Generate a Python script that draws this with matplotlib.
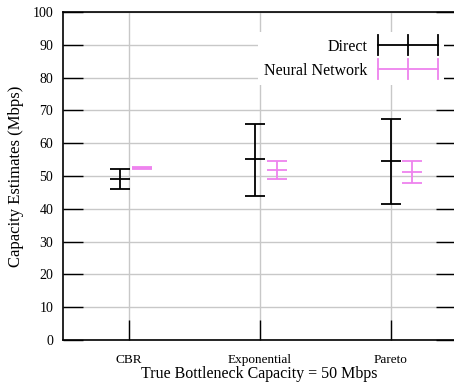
import matplotlib
matplotlib.use("Agg")
import matplotlib.pyplot as plt
from matplotlib.legend_handler import HandlerBase
from matplotlib.lines import Line2D

categories = ["CBR", "Exponential", "Pareto"]
series_names = ["Direct", "Neural Network"]
direct_mid = [49.0, 55.1, 54.5]
direct_low = [46.1, 44.0, 41.4]
direct_high = [52.0, 66.0, 67.4]
nn_mid = [52.3, 51.7, 51.1]
nn_low = [52.0, 49.0, 47.8]
nn_high = [52.6, 54.6, 54.5]
direct_x = [0.937, 1.967, 3.0]
nn_x = [1.102, 2.133, 3.166]
colors = ["black", "#EE82EE"]

plt.rcParams['font.family'] = ['Liberation Serif', 'DejaVu Serif']

fig = plt.figure(figsize=(4.54, 3.83), dpi=100)
ax = fig.add_axes([63/454, 1-340/383, 393/454, 328/383])


class HandlerGnuErr(HandlerBase):
    def create_artists(self, legend, orig_handle, xdescent, ydescent,
                       width, height, fontsize, trans):
        c = orig_handle.get_color()
        y = height / 2 - ydescent
        arts = [Line2D([-xdescent, width - xdescent], [y, y], color=c, lw=1.3)]
        h = fontsize * 0.62
        for fx in (0.0, 0.5, 1.0):
            xx = -xdescent + fx * width
            arts.append(Line2D([xx, xx], [y - h, y + h], color=c, lw=1.3))
        for a in arts:
            a.set_transform(trans)
        return arts


handles = []
for xs, mid, lo, hi, col, name in [
    (direct_x, direct_mid, direct_low, direct_high, colors[0], series_names[0]),
    (nn_x, nn_mid, nn_low, nn_high, colors[1], series_names[1]),
]:
    yerr = [[m - l for m, l in zip(mid, lo)], [h - m for m, h in zip(mid, hi)]]
    ax.errorbar(xs, mid, yerr=yerr, fmt='none', ecolor=col, elinewidth=1.3,
                capsize=7.2, capthick=1.3, zorder=3)
    ax.plot(xs, mid, linestyle='none', marker='_', markersize=14.4,
            markeredgewidth=1.3, color=col, zorder=3)
    handles.append(Line2D([], [], color=col, label=name))

ax.set_xlim(0.5, 3.5)
ax.set_ylim(0, 100)
ax.set_xticks([1, 2, 3])
ax.set_xticklabels(categories, fontsize=9.5)
ax.set_yticks(range(0, 101, 10))
ax.tick_params(axis='y', direction='in', length=14.4, width=1, right=True,
               labelsize=10, pad=7)
ax.tick_params(axis='x', direction='in', length=14.4, width=1, top=False,
               labelsize=9.5, pad=10)
ax.grid(True, color='#c8c8c8', linewidth=1)
ax.set_axisbelow(True)
for s in ax.spines.values():
    s.set_linewidth(1.2)

ax.set_xlabel("True Bottleneck Capacity = 50 Mbps", fontsize=11.5, labelpad=0)
ax.set_ylabel("Capacity Estimates (Mbps)", fontsize=12, labelpad=6)

leg = ax.legend(handles=handles, handler_map={Line2D: HandlerGnuErr()},
                loc='upper right', bbox_to_anchor=(0.99, 0.962),
                markerfirst=False, frameon=True, fontsize=11.5,
                handlelength=3.75, handletextpad=0.65, labelspacing=0.5,
                borderpad=0.4, fancybox=False)
leg.get_frame().set_edgecolor('none')
leg.get_frame().set_facecolor('white')
leg.get_frame().set_alpha(1)

fig.savefig("out.png", dpi=100)
